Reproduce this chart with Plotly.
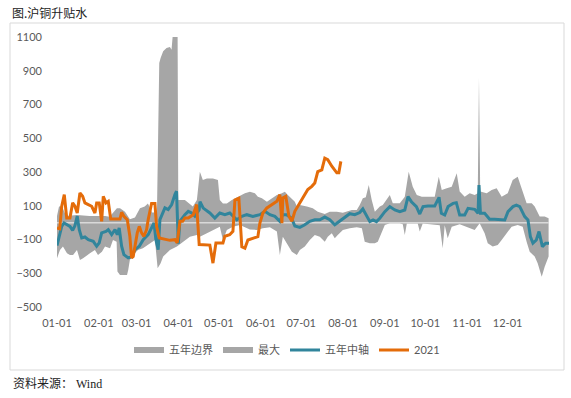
import plotly.graph_objects as go

# ---------------- data ----------------
# x values are day offsets from 01-01
tick_days = [0, 31, 59, 90, 120, 151, 181, 212, 243, 273, 304, 334]
tick_labels = ["01-01", "02-01", "03-01", "04-01", "05-01", "06-01",
               "07-01", "08-01", "09-01", "10-01", "11-01", "12-01"]
y_ticks = [-500, -300, -100, 100, 300, 500, 700, 900, 1100]

max_days = [0, 1.5, 3.7, 6.7, 14.8, 24, 35.6, 39, 44.4, 46.7, 50.4, 54, 57.8, 61.5, 65, 67.4, 70.4, 74.1,
            75.8, 76.8, 78.7, 81.2, 83.7, 84.9, 85.7, 89.4, 89.9, 94.8, 100.7, 103.7, 105.9, 108.1, 111.1,
            115.6, 119.3, 120.7, 123, 125.9, 129.6, 137, 139.3, 143, 146.7, 148.9, 151.9, 155.6, 159.3, 163,
            166.7, 168.9, 171.1, 174.1, 176.3, 177.8, 180, 185.2, 189.6, 193.3, 198.5, 202.2, 207.4, 211.9,
            214.8, 218.5, 222.2, 224.4, 226.7, 228.9, 231.1, 233.3, 235.6, 239.3, 241.5, 246.7, 248.9, 254.1,
            257.8, 260.7, 263.7, 266.7, 270.4, 280, 283, 285.2, 288.9, 292.6, 296.3, 298.5, 302.2, 305.9,
            309.6, 311.9, 312.8, 313.7, 318.5, 322.2, 325.9, 329.6, 334.1, 337.8, 341.5, 345.2, 348.1, 351.9,
            354.1, 357.8, 361.5, 364.4]
max_vals = [40, 95, 97, 40, 45, 40, 40, 35, 85, 85, 65, 20, 30, 85, 95, 114, 60, 60,
            946, 976, 1015, 1035, 1041, 1025, 1100, 1100, 134, 134, 95, 134, 302, 252, 262,
            262, 252, 134, 114, 114, 134, 164, 174, 183, 174, 154, 144, 124, 144, 164,
            174, 183, 164, 144, 124, 95, 104, 95, 85, 65, 51, 65, 65, 59,
            65, 75, 75, 104, 144, 150, 223, 134, 65, 95, 105, 164, 115, 115,
            154, 302, 213, 164, 154, 154, 272, 194, 203, 213, 292, 184, 154, 174,
            164, 174, 857, 184, 174, 194, 203, 154, 174, 253, 272, 184, 115, 115,
            95, 36, 36, 26]

min_days = [0, 2.2, 4.4, 7.4, 9.6, 11.9, 14.8, 17, 19.3, 22.2, 24.4, 28.1, 30.4, 33.3, 35.6, 39.3, 41.5,
            44.2, 44.8, 46.7, 51.9, 52.8, 54, 56.3, 60, 63.7, 68.9, 72.6, 74.6, 76.8, 78.7, 83.7, 88.9,
            93.3, 98.5, 103.7, 105.9, 111.1, 115.6, 120.7, 123, 125.9, 130.4, 135.6, 143, 148.1, 152.6,
            157.8, 163, 165.2, 167.4, 170.4, 174.1, 177.8, 180, 183.7, 187.4, 191.1, 194.8, 198.5, 200.7,
            203.7, 205.9, 208.1, 211.9, 217, 222.2, 226, 228.1, 231.9, 235.6, 237.8, 240.7, 243, 246.7,
            254.1, 256.3, 257.8, 259.3, 267.4, 268.9, 271.1, 283.7, 285.9, 287.4, 289.6, 292.6, 298.5,
            309.6, 313.3, 317, 319.3, 323, 326.7, 329.6, 333.3, 337, 341.5, 345.2, 348.1, 350.4, 354.1,
            356.3, 359.3, 361.5, 364.4]
min_vals = [-211, -162, -142, -182, -192, -192, -162, -221, -211, -192, -182, -162, -192, -172, -142, -152, -103,
            -113, -290, -310, -310, -280, -221, -192, -162, -152, -122, -103, -271, -241, -201, -162, -142,
            -113, -83, -73, -83, -63, -43, -24, -103, -43, -24, -14, -40, -43, -34,
            -28, -53, -192, -83, -122, -172, -192, -162, -142, -103, -73, -83, -113, -83,
            -63, -93, -73, -43, -34, -28, -34, -113, -122, -122, -113, -63, -14, -4,
            -3, -10, -73, -5, -5, -53, -5, -15, -152, -15, -93, -25, -10,
            -43, -3, -63, -122, -142, -132, -103, -63, -24, -14, -24, -113, -172, -201,
            -241, -320, -261, -201]

mid_days = [0, 1.7, 3.5, 5.2, 7.2, 9.6, 11.6, 13.3, 15, 16.5, 18.3, 20.7, 23.2, 26.9, 29.4, 31.3, 33.1,
            36.3, 38, 40.5, 43, 44.7, 46.1, 47.9, 49.6, 52.8, 55.3, 57.8, 61, 63.9, 67.6, 70.1, 71.9,
            73.3, 75, 76.3, 78.3, 80, 82.4, 85, 87.4, 88.6, 89.9, 91.1, 94.8, 97.3, 99.8, 102.2, 105.4,
            106, 108.4, 113.3, 117, 120.7, 124.4, 128.1, 133.3, 137, 140.7, 145.2, 150.4, 154.1, 157.8,
            161.5, 165.2, 167.2, 170.1, 173.8, 176.3, 180, 183.7, 187.4, 191.1, 194.8, 198.5, 202.2,
            205.9, 209.6, 213.3, 217, 220.7, 224.4, 226.7, 229.4, 231.9, 234.3, 236.8, 239.3, 243,
            246.7, 250.4, 254.1, 257.8, 260.2, 262.7, 266.4, 268.9, 271.3, 275, 280, 283.2, 284.9,
            287.4, 289.9, 293.6, 296, 298.5, 302.2, 304.7, 309.6, 312.1, 312.8, 313.9, 317, 320.7,
            324.4, 328.1, 331.9, 334.3, 338, 340.5, 343, 346.7, 349.1, 350.9, 352.8, 355.3, 357.3,
            359.8, 362.2, 364.7]
mid_vals = [-136, -81, -22, -2, -12, -22, -46, -18, 38, -42, -91, -85, -101, -111, -140, -120, -61,
            -52, -42, -71, -42, -71, -32, -140, -190, -209, -203, -160, -140, -101, -71, -32, -2,
            -101, -160, 18, 57, 87, 77, 107, 166, 186, -125, 8, 47, 67, 57, 38, 77,
            124, 86, 57, 27, 57, 47, 57, 17, 37, 47, 37, 47, 67, 47,
            37, 8, 47, 47, 27, -20, -28, -13, 8, 17, 17, 33, 17,
            -13, 8, 33, 53, 47, 60, 81, 37, 6, 16, 6, 26, 65,
            95, 75, 65, 75, 154, 124, 95, 51, 95, 99, 99, 150, 55,
            45, 95, 114, 118, 45, 45, 85, 79, 55, 222, 55, 55, 20,
            20, 16, 16, 65, 95, 104, 95, 36, 16, -83, -122, -103, -53,
            -142, -122, -122]

y21_days = [0, 2, 3.5, 5.4, 7.2, 9.6, 11.6, 13.3, 15, 17, 19, 20.7, 23.2, 25.7, 28.1, 29.4, 31.3, 33.1,
            34.3, 36.3, 38, 39.8, 43, 46.7, 47.9, 49.6, 52.1, 54, 55.3, 56.5, 57.8, 59.5, 61, 62.7, 64.4,
            66.4, 67.6, 69.4, 70.1, 72.6, 73.8, 75.8, 78.7, 83.7, 87.4, 89.1, 91.1, 93.1, 94.8, 97.3, 101,
            103.5, 105.4, 113.3, 115.6, 117.8, 123, 124.4, 128, 130.4, 131.9, 134.8, 137, 139.3, 141.5,
            145.2, 148.9, 150.4, 152.6, 155.6, 159.3, 163, 165.2, 166.7, 167.4, 169.6, 171.9, 174.1,
            176.3, 178.5, 181.5, 183.7, 185.9, 188.9, 191.1, 193.3, 196.3, 198.5, 200.7, 203.7, 207.4,
            208.9, 210.4]
y21_vals = [-32, -37, 97, 166, 28, 28, 117, 97, 57, 176, 156, 117, 107, 97, 57, 117, 117, 8,
            156, 117, 126, 22, 22, 22, 61, 38, 18, -81, -209, -200, -140, -61, -22, -61, -81,
            -42, 18, 97, 113, 113, -22, -91, -97, -105, -101, -120, 8, 8, 28, 28, 47,
            107, -130, -133, -240, -121, -121, -81, -72, -52, 134, 144, -143, -152, -103,
            -93, -83, -3, 57, 87, 107, 126, 166, -3, 146, 156, 38, 8,
            67, 97, 136, 166, 196, 215, 235, 302, 312, 382, 373, 334, 295,
            295, 363]

# ---------------- styling ----------------
GRAY = "#A6A6A6"
TEAL = "#31859C"
ORANGE = "#E46C0A"
TXT = "#595959"
CJK = "Lato, 'Noto Sans CJK SC', sans-serif"

fig = go.Figure()
fig.add_trace(go.Scatter(x=min_days, y=min_vals, name="五年边界", mode="lines", legendgroup="a",
                         line=dict(width=0, color=GRAY), fill="tozeroy", fillcolor=GRAY, showlegend=False))
fig.add_trace(go.Scatter(x=max_days, y=max_vals, name="最大", mode="lines", legendgroup="b",
                         line=dict(width=0, color=GRAY), fill="tozeroy", fillcolor=GRAY, showlegend=False))
# legend swatches for the two area series (thick bar like the original)
fig.add_trace(go.Scatter(x=[None], y=[None], name="五年边界", mode="lines", legendgroup="a",
                         line=dict(width=6, color=GRAY)))
fig.add_trace(go.Scatter(x=[None], y=[None], name="最大", mode="lines", legendgroup="b",
                         line=dict(width=6, color=GRAY)))
# horizontal category axis line at 0, drawn over the areas
fig.add_trace(go.Scatter(x=[min(mid_days), max(mid_days)], y=[0, 0], mode="lines",
                         line=dict(width=1.5, color="#D9D9D9"), showlegend=False, hoverinfo="skip"))
fig.add_trace(go.Scatter(x=mid_days, y=mid_vals, name="五年中轴", mode="lines",
                         line=dict(width=3, color=TEAL)))
fig.add_trace(go.Scatter(x=y21_days, y=y21_vals, name="2021", mode="lines",
                         line=dict(width=3, color=ORANGE)))

L, R, T, B = 57, 549, 37, 307
W, H = 571, 398
pw, ph = R - L, B - T

fig.update_layout(
    width=W, height=H,
    margin=dict(l=L, r=W - R, t=T, b=H - B, pad=0, autoexpand=False),
    paper_bgcolor="white", plot_bgcolor="white",
    font=dict(family=CJK, size=11, color=TXT),
    showlegend=True,
    legend=dict(orientation="h", x=(287 - L) / pw, xanchor="center",
                y=(B - 350) / ph, yanchor="middle",
                font=dict(family=CJK, size=11, color=TXT),
                itemwidth=30, tracegroupgap=0, bgcolor="rgba(0,0,0,0)"),
    xaxis=dict(range=[0, 364.7], tickmode="array", tickvals=tick_days, ticktext=tick_labels,
               showgrid=False, zeroline=False, showline=False, ticks="", automargin=False,
               ticklabelstandoff=8, tickfont=dict(size=11, color=TXT)),
    yaxis=dict(range=[-500, 1100], tickmode="array", tickvals=y_ticks,
               showgrid=False, zeroline=False, showline=False, ticks="", automargin=False,
               ticklabelstandoff=14, tickfont=dict(size=11, color=TXT)),
    hovermode=False,
    shapes=[dict(type="rect", xref="paper", yref="paper",
                 x0=(10 - L) / pw, x1=(564 - L) / pw,
                 y0=(B - 370) / ph, y1=(B - 23) / ph,
                 line=dict(color="#D9D9D9", width=1), fillcolor="rgba(0,0,0,0)", layer="below")],
    annotations=[
        dict(text="图.沪铜升贴水", xref="paper", yref="paper",
             x=(10 - L) / pw, y=(B - 12) / ph, xanchor="left", yanchor="middle",
             showarrow=False, font=dict(family="'Noto Sans CJK SC'", size=12, color="#222222")),
        dict(text="资料来源： Wind", xref="paper", yref="paper",
             x=(11 - L) / pw, y=(B - 384) / ph, xanchor="left", yanchor="middle",
             showarrow=False, font=dict(family="'Liberation Serif', 'Noto Sans CJK SC', serif",
                                       size=12, color="#222222")),
    ],
)

fig.write_html("out.html", config={"displayModeBar": False},
               post_script="document.body.style.margin='0';")
